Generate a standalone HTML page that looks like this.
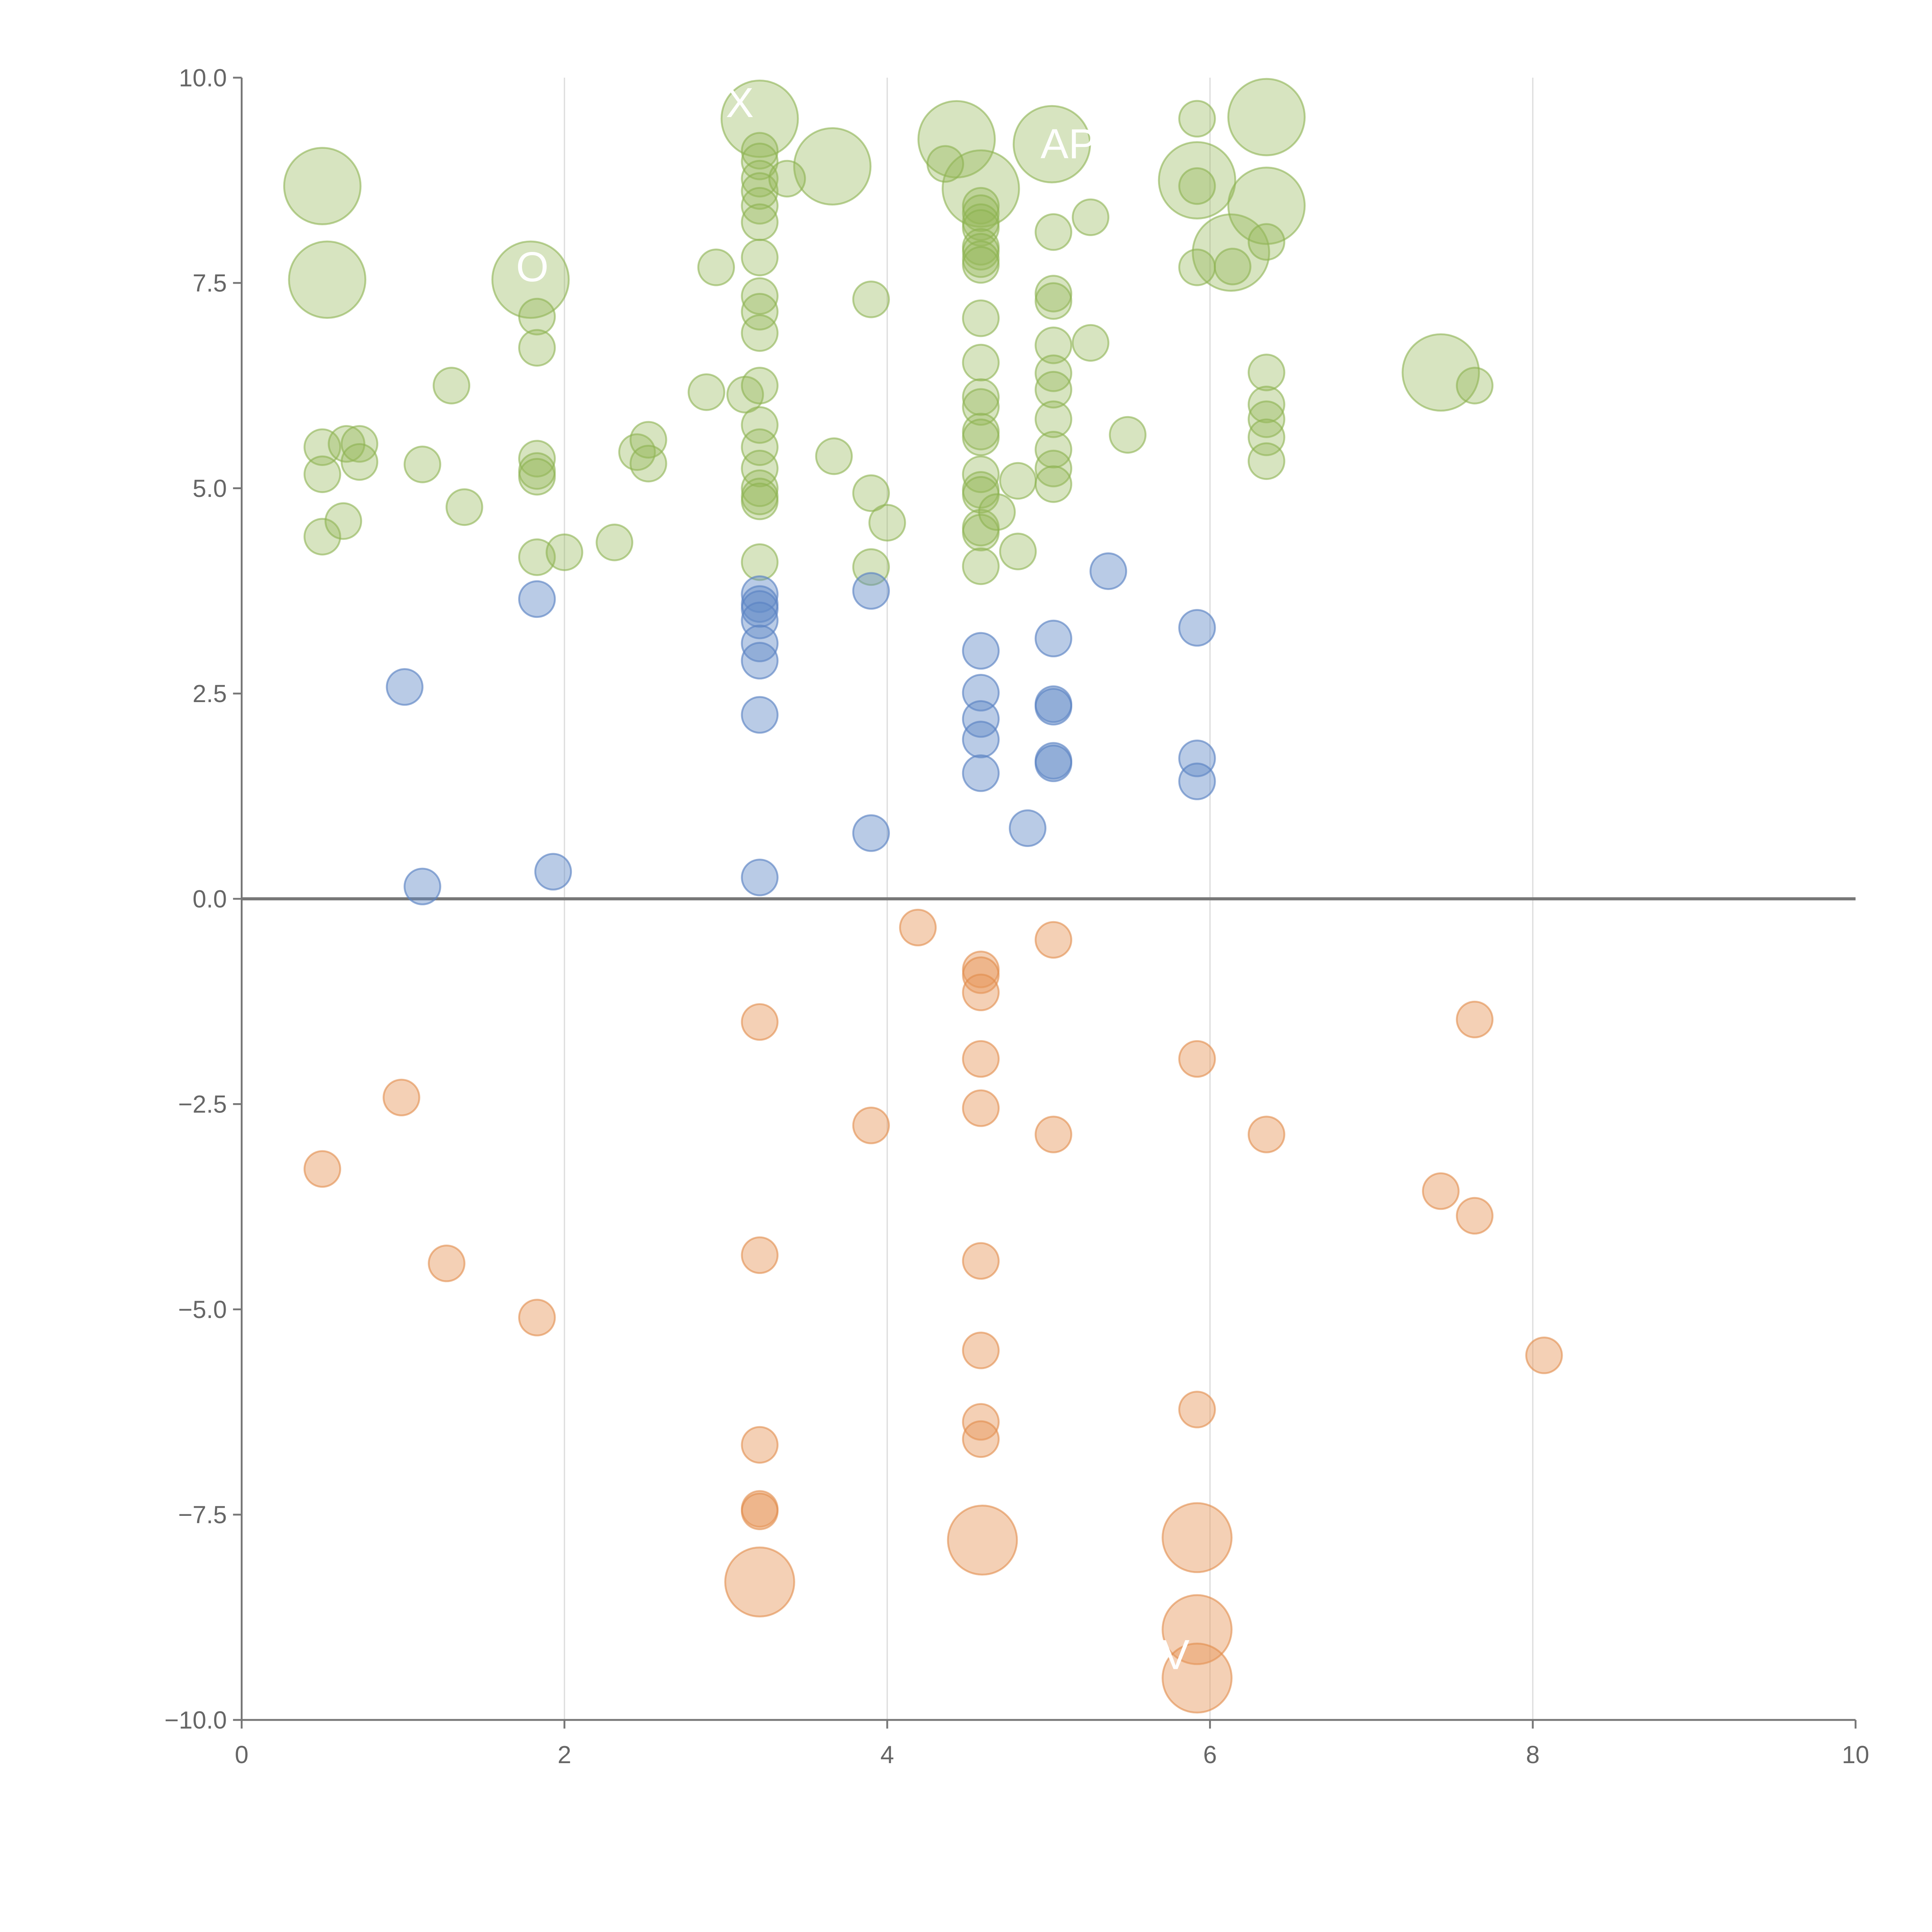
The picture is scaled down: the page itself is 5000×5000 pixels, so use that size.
<!DOCTYPE html>
<html><head><meta charset="utf-8"><style>
html,body{margin:0;padding:0;background:#fff}
svg{display:block}
text{font-family:"Liberation Sans",sans-serif}
</style></head><body>
<svg id="chart" width="5000" height="5000" viewBox="0 0 1567 1567" xmlns="http://www.w3.org/2000/svg">
<g id="grid"></g>
<g id="axes"></g>
<g id="marks"></g>
<g id="labels"></g>
</svg>
<script>
const xTicks=[0,2,4,6,8,10];
const yTicks=[-10,-7.5,-5,-2.5,0,2.5,5,7.5,10];
const yTickLabels=["\u221210.0","\u22127.5","\u22125.0","\u22122.5","0.0","2.5","5.0","7.5","10.0"];
const greenX=[0.5,0.5,0.5,0.65,0.63,0.73,0.73,1.12,1.3,1.38,1.83,1.83,1.83,1.83,1.83,1.83,2.0,2.31,2.45,2.52,2.52,2.88,2.94,3.12,
3.21,3.21,3.21,3.21,3.21,3.21,3.21,3.21,3.21,3.21,3.21,3.21,3.21,3.21,3.21,3.21,3.21,3.21,
3.38,3.67,3.9,3.9,3.9,4.0,4.36,
4.58,4.58,4.58,4.58,4.58,4.58,4.58,4.58,4.58,4.58,4.58,4.58,4.58,4.58,4.58,4.58,4.58,4.58,4.58,4.58,
4.68,4.81,4.81,5.03,5.03,5.03,5.03,5.03,5.03,5.03,5.03,5.03,5.03,5.26,5.26,5.49,5.92,5.92,5.92,6.14,
6.35,6.35,6.35,6.35,6.35,6.35,7.64];
const greenY=[5.5,5.17,4.41,5.54,4.6,5.54,5.32,5.29,6.25,4.77,7.09,6.71,5.36,5.21,5.14,4.16,4.22,4.34,5.44,5.59,5.3,6.17,7.69,6.14,
9.11,8.98,8.77,8.62,8.44,8.24,7.81,7.34,7.15,6.89,6.25,5.77,5.5,5.24,5.0,4.9,4.84,4.1,
8.77,5.39,7.3,4.94,4.04,4.58,8.95,
8.44,8.35,8.24,8.17,7.94,7.88,7.79,7.72,7.07,6.53,6.11,5.99,5.69,5.62,5.17,4.98,4.92,4.52,4.46,4.05,
4.71,5.09,4.23,8.12,7.37,7.28,6.74,6.4,6.2,5.84,5.47,5.24,5.05,8.3,6.77,5.65,9.5,8.68,7.69,7.7,
8.0,6.41,6.02,5.84,5.62,5.33,6.25];
const greenBigX=[0.5,0.53,1.79,3.21,3.66,4.43,4.58,5.02,5.92,6.13,6.35,6.35,7.43];
const greenBigY=[8.68,7.54,7.54,9.5,8.92,9.25,8.65,9.19,8.75,7.87,9.52,8.44,6.41];
const blueX=[1.01,1.12,1.83,1.93,3.21,3.21,3.21,3.21,3.21,3.21,3.21,3.21,3.9,3.9,4.58,4.58,4.58,4.58,4.58,4.87,5.03,5.03,5.03,5.03,5.03,5.37,5.92,5.92,5.92];
const blueY=[2.58,0.15,3.65,0.33,3.71,3.59,3.53,3.39,3.11,2.9,2.24,0.26,3.75,0.8,3.02,2.51,2.19,1.94,1.53,0.86,3.17,2.37,2.34,1.68,1.65,3.99,3.3,1.71,1.43];
const orangeX=[0.5,0.99,1.27,1.83,3.21,3.21,3.21,3.21,3.21,3.9,4.19,4.58,4.58,4.58,4.58,4.58,4.58,4.58,4.58,4.58,5.03,5.03,5.92,5.92,6.35,7.43,7.64,7.64,8.07];
const orangeY=[-3.29,-2.42,-4.44,-5.1,-1.5,-4.34,-6.65,-7.43,-7.46,-2.76,-0.35,-0.86,-0.93,-1.14,-1.95,-2.55,-4.41,-5.5,-6.37,-6.58,-0.5,-2.87,-1.95,-6.22,-2.87,-3.56,-1.47,-3.86,-5.56];
const orangeBigX=[3.21,4.59,5.92,5.92,5.92];
const orangeBigY=[-8.32,-7.81,-7.78,-8.9,-9.49];
const labelText=["X","APE","E","V","O"];
const labelX=[3.0,4.95,4.1,5.7,1.7];
const labelY=[9.7,9.2,-7.6,-9.2,7.7];

const NS="http://www.w3.org/2000/svg";
const X0=196,X1=1505,Y0=1395,Y1=63;
function sx(v){return X0+(v-0)/(10-0)*(X1-X0);}
function sy(v){return Y0-(v+10)/20*(Y0-Y1);}
function mk(tag,attrs,parent){const e=document.createElementNS(NS,tag);for(const k in attrs)e.setAttribute(k,attrs[k]);parent.appendChild(e);return e;}
const grid=document.getElementById('grid'),axes=document.getElementById('axes'),marks=document.getElementById('marks'),labels=document.getElementById('labels');

[2,4,6,8].forEach(v=>{
  const l=mk('line',{x1:sx(v),x2:sx(v),y1:Y1,y2:Y0,stroke:'#dcdcdc','stroke-width':1},grid);
  
  
});
let a=mk('line',{x1:X0,x2:X0,y1:Y1,y2:Y0,stroke:'#777','stroke-width':1.5},axes);


a=mk('line',{x1:X0,x2:X1,y1:Y0,y2:Y0,stroke:'#777','stroke-width':1.5},axes);


yTicks.forEach((v,i)=>{
  const t=mk('line',{x1:X0-7,x2:X0,y1:sy(v),y2:sy(v),stroke:'#777','stroke-width':1.5},axes);
  
  
  const tx=mk('text',{x:X0-12,y:sy(v)+7,'text-anchor':'end','font-size':20,fill:'#666'},axes);
  tx.textContent=yTickLabels[i];
  
  
});
xTicks.forEach(v=>{
  const t=mk('line',{x1:sx(v),x2:sx(v),y1:Y0,y2:Y0+7,stroke:'#777','stroke-width':1.5},axes);
  
  
  const tx=mk('text',{x:sx(v),y:Y0+35,'text-anchor':'middle','font-size':20,fill:'#666'},axes);
  tx.textContent=String(v);
  
  
});
function draw(xs,ys,r,fill,stroke,name){
  xs.forEach((v,i)=>{
    const c=mk('circle',{cx:sx(v),cy:sy(ys[i]),r:r,fill:fill,stroke:stroke,'stroke-width':1.5},marks);
    
    
  });
}
draw(greenBigX,greenBigY,31,'rgba(150,185,90,0.38)','rgba(140,178,80,0.6)','green-large-bubble');
draw(greenX,greenY,14.5,'rgba(150,185,90,0.38)','rgba(140,178,80,0.6)','green-bubble');
draw(blueX,blueY,14.5,'rgba(100,140,200,0.45)','rgba(90,130,195,0.65)','blue-bubble');
draw(orangeBigX,orangeBigY,28,'rgba(230,150,90,0.45)','rgba(225,140,75,0.6)','orange-large-bubble');
draw(orangeX,orangeY,14.5,'rgba(230,150,90,0.45)','rgba(225,140,75,0.6)','orange-bubble');
let z=mk('line',{x1:X0,x2:X1,y1:sy(0),y2:sy(0),stroke:'#777','stroke-width':2.5},axes);


labelText.forEach((s,i)=>{
  const t=mk('text',{x:sx(labelX[i]),y:sy(labelY[i])+12,'font-size':34,fill:'#fff'},labels);
  t.textContent=s;
  
  
});
</script>
</body></html>
